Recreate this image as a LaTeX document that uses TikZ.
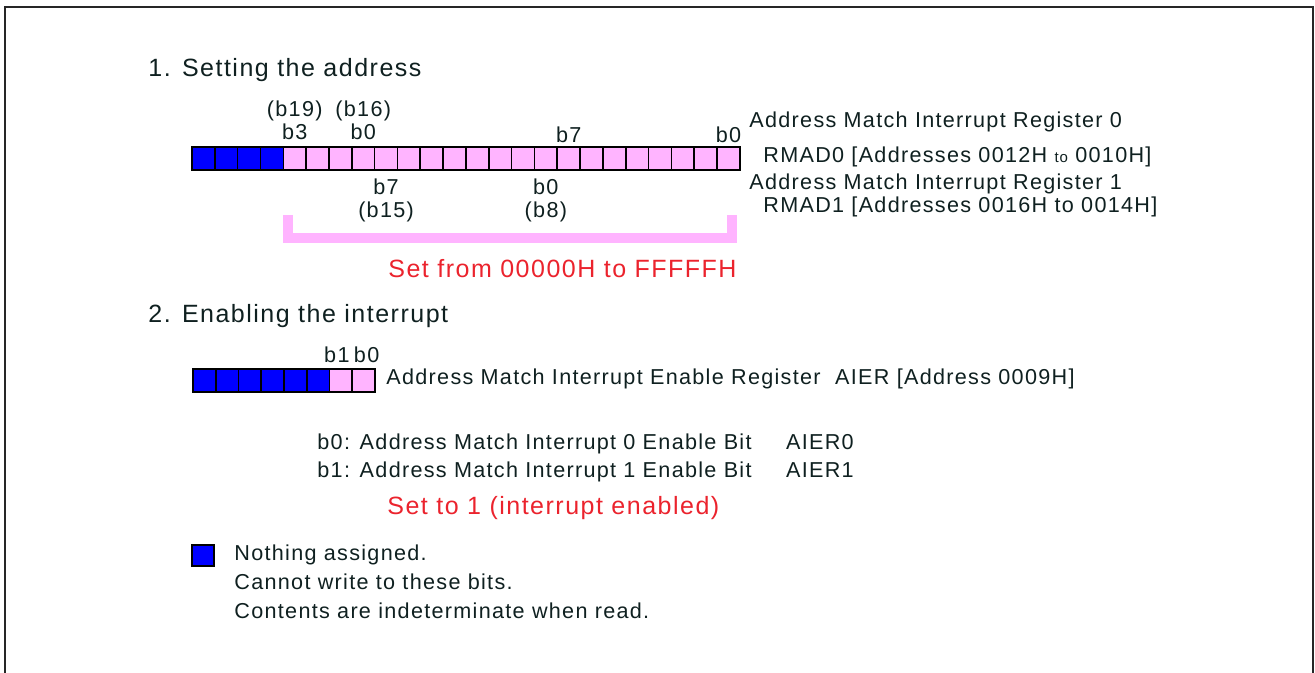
\documentclass[tikz,border=0pt]{standalone}
\usepackage{fontspec}
\setmainfont{Liberation Sans}[LetterSpace=6]
\definecolor{Mitexto}{RGB}{15,32,32}
\definecolor{Miazul}{RGB}{0,0,255}
\definecolor{Mirosa}{RGB}{255,180,255}
\definecolor{Mirojo}{RGB}{235,35,45}
\usetikzlibrary{positioning}

\begin{document}
\begin{tikzpicture}[x=0.5pt, y=-0.5pt,
    celda/.style={
        rectangle, draw=black, line width=0.8pt,
        minimum width=11.4pt, minimum height=11.5pt,
        inner sep=0pt, outer sep=0pt},
    libre/.style={celda, fill=Miazul},
    bit/.style={celda, fill=Mirosa},
    etq/.style={font=\fontsize{10.8}{11.5}\selectfont, text=Mitexto,
        inner sep=0pt, align=center},
    txt/.style={font=\fontsize{10.8}{12}\selectfont, text=Mitexto,
        inner sep=0pt, anchor=base west},
    titulo/.style={txt, font=\fontsize{12.5}{14}\selectfont},
    aviso/.style={txt, font=\fontsize{12.5}{14}\selectfont, text=Mirojo},
    llave/.style={draw=Mirosa, line width=5pt}]
  \useasboundingbox (0,0) rectangle (1315,673);
  % Marco
  \draw[line width=1pt, black!85] (5,673) |- (1313,7) -- (1313,673);
  % 1. Registros RMAD0 / RMAD1
  \node[titulo] (tit1) at (148,77) {1. Setting the address};
  \foreach \i in {0,...,3}
    \node[libre] (ra\i) at ({192+(\i+0.5)*22.83},158.5) {};
  \foreach \i in {4,...,23}
    \node[bit] (ra\i) at ({192+(\i+0.5)*22.83},158.5) {};
  % Etiquetas de bits
  \node[etq, above=3.5pt of ra4]  (b19) {(b19)\\b3};
  \node[etq, above=3.5pt of ra7]  (b16) {(b16)\\b0};
  \node[etq, above=2pt of ra16]   (b7a) {b7};
  \node[etq, above=2pt of ra23]   (b0a) {b0};
  \node[etq, below=4pt of ra8]    (b15) {b7\\(b15)};
  \node[etq, below=4pt of ra15]   (b8)  {b0\\(b8)};
  % Nombres de registro
  \node[txt] (reg0) at (749,128) {Address Match Interrupt Register 0};
  \node[txt] (rmad0) at (763,163)
    {RMAD0 [Addresses 0012H {\fontsize{7.5}{9}\selectfont to} 0010H]};
  \node[txt] (reg1) at (749,190) {Address Match Interrupt Register 1};
  \node[txt] (rmad1) at (763,213) {RMAD1 [Addresses 0016H to 0014H]};
  % Llave de rango
  \draw[llave] (288,215) |- (732,238) -- (732,215);
  \node[aviso] (rango) at (388,278) {Set from 00000H to FFFFFH};
  % 2. Registro AIER
  \node[titulo] (tit2) at (148,322) {2. Enabling the interrupt};
  \foreach \i in {0,...,5}
    \node[libre] (rb\i) at ({193+(\i+0.5)*22.75},380.5) {};
  \foreach \i in {6,7}
    \node[bit] (rb\i) at ({193+(\i+0.5)*22.75},380.5) {};
  \node[etq, above=3pt of rb6, xshift=-2pt] (b1e) {b1};
  \node[etq, above=3pt of rb7, xshift=1.5pt] (b0e) {b0};
  \node[txt] (aier) at (386,384)
    {Address Match Interrupt Enable Register\ \ AIER [Address 0009H]};
  \node[txt] (aier0) at (317,449)
    {b0: Address Match Interrupt 0 Enable Bit\hspace{1.6em}AIER0};
  \node[txt] (aier1) at (317,477)
    {b1: Address Match Interrupt 1 Enable Bit\hspace{1.6em}AIER1};
  \node[aviso] (activo) at (387,514) {Set to 1 (interrupt enabled)};
  % Leyenda
  \node[libre, minimum width=11pt, minimum height=10.5pt] (ley) at (203,555.5) {};
  \node[txt] (ley1) at (234,560) {Nothing assigned.};
  \node[txt] (ley2) at (234,589) {Cannot write to these bits.};
  \node[txt] (ley3) at (234,618) {Contents are indeterminate when read.};
\end{tikzpicture}
\end{document}
